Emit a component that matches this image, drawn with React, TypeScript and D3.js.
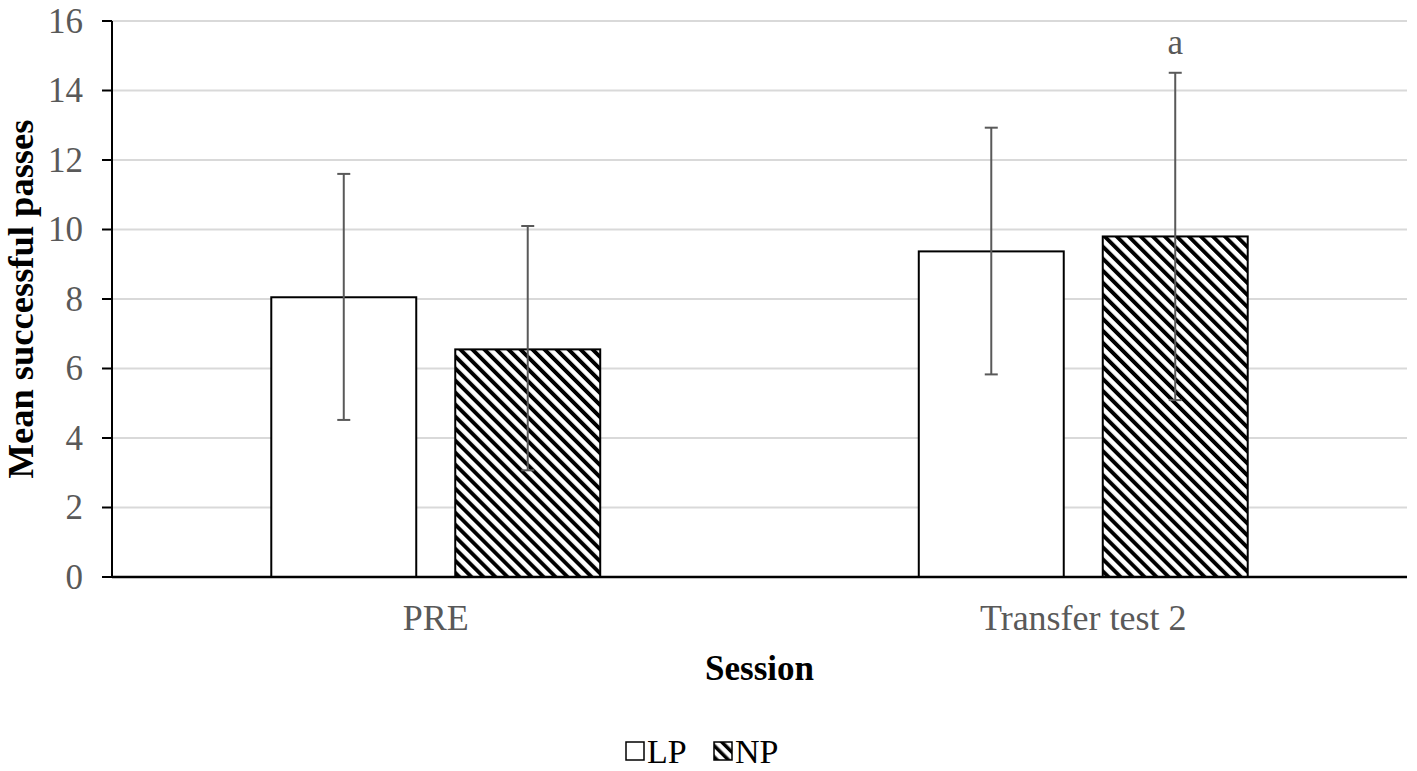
import React from "react";
import * as d3 from "d3";

const categories = ["PRE", "Transfer test 2"];
const series = ["LP", "NP"];
const means = [
  [8.05, 6.55],
  [9.37, 9.8],
];
const errLow = [
  [4.52, 3.07],
  [5.83, 5.09],
];
const errHigh = [
  [11.6, 10.1],
  [12.93, 14.51],
];
const yTicks = [0, 2, 4, 6, 8, 10, 12, 14, 16];
const annotations = [{ cat: 1, ser: 1, text: "a" }];

const W = 1417;
const H = 771;
const margin = { left: 112, right: 10, top: 21, bottom: 194 };
const FONT = "'Liberation Serif', 'Times New Roman', serif";
const GRAY = "#595959";

export default function App() {
  const x0 = d3
    .scaleBand<string>()
    .domain(categories)
    .range([margin.left, W - margin.right])
    .padding(0);
  const groupW = x0.bandwidth() * 0.508;
  const x1 = d3
    .scaleBand<string>()
    .domain(series)
    .range([0, groupW])
    .paddingInner(0.212)
    .paddingOuter(0);
  const y = d3
    .scaleLinear()
    .domain([0, 16])
    .range([H - margin.bottom, margin.top]);

  const groupStart = (c: string) =>
    (x0(c) as number) + (x0.bandwidth() - groupW) / 2;
  const fillFor = (s: string) => (s === "NP" ? "url(#hatch)" : "#ffffff");

  return (
    <svg
      width={W}
      height={H}
      style={{ position: "absolute", left: 0, top: 0, background: "#fff" }}
      fontFamily={FONT}
    >
      <defs>
        <pattern
          id="hatch"
          patternUnits="userSpaceOnUse"
          width={8.5}
          height={8.5}
          patternTransform="rotate(-45)"
        >
          <rect width={8.5} height={8.5} fill="#fff" />
          <rect x={0} y={0} width={3.9} height={8.5} fill="#000" />
        </pattern>
        <pattern
          id="hatchSmall"
          patternUnits="userSpaceOnUse"
          width={8}
          height={8}
          patternTransform="rotate(-45)"
        >
          <rect width={8} height={8} fill="#fff" />
          <rect x={0} y={0} width={3.5} height={8} fill="#000" />
        </pattern>
      </defs>

      {/* gridlines */}
      {yTicks
        .filter((t) => t > 0)
        .map((t) => (
          <line
            key={"g" + t}
            x1={margin.left}
            x2={W - margin.right}
            y1={y(t)}
            y2={y(t)}
            stroke="#d9d9d9"
            strokeWidth={2}
          />
        ))}

      {/* bars */}
      {categories.map((c, ci) =>
        series.map((s, si) => {
          const bx = groupStart(c) + (x1(s) as number);
          return (
            <rect
              key={c + s}
              x={bx}
              y={y(means[ci][si])}
              width={x1.bandwidth()}
              height={y(0) - y(means[ci][si])}
              fill={fillFor(s)}
              stroke="#000"
              strokeWidth={2}
            />
          );
        })
      )}

      {/* error bars */}
      {categories.map((c, ci) =>
        series.map((s, si) => {
          const cx = groupStart(c) + (x1(s) as number) + x1.bandwidth() / 2;
          const yl = y(errLow[ci][si]);
          const yh = y(errHigh[ci][si]);
          return (
            <g key={"e" + c + s} stroke={GRAY} strokeWidth={2}>
              <line x1={cx} x2={cx} y1={yl} y2={yh} />
              <line x1={cx - 6.5} x2={cx + 6.5} y1={yl} y2={yl} />
              <line x1={cx - 6.5} x2={cx + 6.5} y1={yh} y2={yh} />
            </g>
          );
        })
      )}

      {/* annotations */}
      {annotations.map((a, i) => {
        const c = categories[a.cat];
        const s = series[a.ser];
        const cx = groupStart(c) + (x1(s) as number) + x1.bandwidth() / 2;
        return (
          <text
            key={"a" + i}
            x={cx}
            y={y(errHigh[a.cat][a.ser]) - 19}
            textAnchor="middle"
            fontSize={35}
            fill={GRAY}
          >
            {a.text}
          </text>
        );
      })}

      {/* y axis */}
      <line
        x1={margin.left}
        x2={margin.left}
        y1={y(16)}
        y2={y(0)}
        stroke="#000"
        strokeWidth={2}
      />
      {yTicks.map((t) => (
        <g key={"t" + t}>
          <line
            x1={margin.left - 10}
            x2={margin.left}
            y1={y(t)}
            y2={y(t)}
            stroke="#000"
            strokeWidth={2}
          />
          <text
            x={margin.left - 29}
            y={y(t)}
            dy="0.34em"
            textAnchor="end"
            fontSize={35}
            fill={GRAY}
          >
            {t}
          </text>
        </g>
      ))}

      {/* x axis */}
      <line
        x1={margin.left}
        x2={W - margin.right}
        y1={y(0)}
        y2={y(0)}
        stroke="#000"
        strokeWidth={2.5}
      />
      {categories.map((c) => (
        <text
          key={"c" + c}
          x={(x0(c) as number) + x0.bandwidth() / 2}
          y={630}
          textAnchor="middle"
          fontSize={36}
          fill={GRAY}
        >
          {c}
        </text>
      ))}

      {/* axis titles */}
      <text
        x={(margin.left + W - margin.right) / 2}
        y={680}
        textAnchor="middle"
        fontSize={35}
        fontWeight="bold"
        fill="#000"
      >
        Session
      </text>
      <text
        transform={`translate(33, ${(y(0) + y(16)) / 2}) rotate(-90)`}
        textAnchor="middle"
        fontSize={36.5}
        fontWeight="bold"
        fill="#000"
      >
        Mean successful passes
      </text>

      {/* legend */}
      <g>
        <rect x={626} y={742} width={18} height={18} fill="#fff" stroke="#000" strokeWidth={1.5} />
        <text x={647} y={763} fontSize={34} fill="#000">
          LP
        </text>
        <rect x={714} y={742} width={18} height={18} fill="url(#hatchSmall)" stroke="#000" strokeWidth={1.5} />
        <text x={735} y={763} fontSize={34} fill="#000">
          NP
        </text>
      </g>
    </svg>
  );
}
